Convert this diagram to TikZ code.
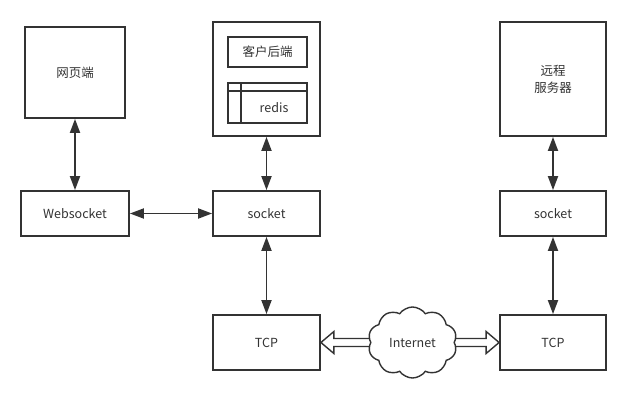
\documentclass[tikz,border=0pt]{standalone}
\usepackage{fontspec}
\setmainfont{Noto Sans CJK SC}
\usetikzlibrary{arrows.meta,shapes.symbols,calc}
\definecolor{ink}{HTML}{333333}
\begin{document}
\begin{tikzpicture}[x=1pt,y=-1pt,
  box/.style={draw=ink,line width=1.8pt,fill=white,inner sep=0pt,text=ink,font=\fontsize{12.5}{17}\selectfont,align=center},
  dbl/.style={draw=ink,line width=1.8pt,{Triangle[length=14pt,width=10pt]}-{Triangle[length=14pt,width=10pt]}},
  hollow/.style={draw=ink,line width=1.4pt,fill=white,line join=miter}]
\useasboundingbox (0,0) rectangle (643,410);
% left column
\node[box,minimum width=100pt,minimum height=91pt] (web) at (75,72.5) {网页端};
\node[box,minimum width=108pt,minimum height=45pt] (ws) at (75,213.5) {Websocket};
% middle column
\node[box,minimum width=107pt,minimum height=114pt] (client) at (266.5,79) {};
\node[box,minimum width=79pt,minimum height=30pt] (backend) at (267.5,52) {客户后端};
\node[box,minimum width=79pt,minimum height=40pt] (redis) at (267.5,103) {};
\coordinate (rh) at ($(redis.north west)+(0,9)$);
\coordinate (rv) at ($(redis.north west)+(14,0)$);
\draw[ink,line width=1.8pt] (rh) -- (rh -| redis.east);
\draw[ink,line width=1.8pt] (rv) -- (rv |- redis.south);
\node[text=ink,font=\fontsize{12.5}{17}\selectfont,inner sep=0pt] (redislbl) at (274,108) {redis};
\node[box,minimum width=107pt,minimum height=45pt] (sockm) at (266.5,213.5) {socket};
\node[box,minimum width=107pt,minimum height=55pt] (tcpm) at (266.5,342.5) {TCP};
% right column
\node[box,minimum width=106pt,minimum height=114pt] (remote) at (553,79) {远程\\服务器};
\node[box,minimum width=106pt,minimum height=45pt] (sockr) at (553,213.5) {socket};
\node[box,minimum width=106pt,minimum height=55pt] (tcpr) at (553,342.5) {TCP};
% connectors
\draw[dbl] (web.south) -- (ws.north);
\draw[dbl] (ws.east) -- (sockm.west);
\draw[dbl] (client.south) -- (sockm.north);
\draw[dbl] (sockm.south) -- (tcpm.north);
\draw[dbl] (remote.south) -- (sockr.north);
\draw[dbl] (sockr.south) -- (tcpr.north);
% hollow arrows to the cloud
\draw[hollow] (tcpm.east) -- ++(13,-11) -- ++(0,7) -- ++(40,0) -- ++(0,8) -- ++(-40,0) -- ++(0,7) -- cycle;
\draw[hollow] (tcpr.west) -- ++(-13,-11) -- ++(0,7) -- ++(-40,0) -- ++(0,8) -- ++(40,0) -- ++(0,7) -- cycle;
\node[cloud,cloud puffs=10,cloud puff arc=110,aspect=1.3,draw=ink,line width=1.4pt,fill=white,
  minimum width=89pt,minimum height=71pt,inner sep=0pt,text=ink,font=\fontsize{12.5}{17}\selectfont] (net) at (412.5,342.5) {Internet};
\end{tikzpicture}
\end{document}
